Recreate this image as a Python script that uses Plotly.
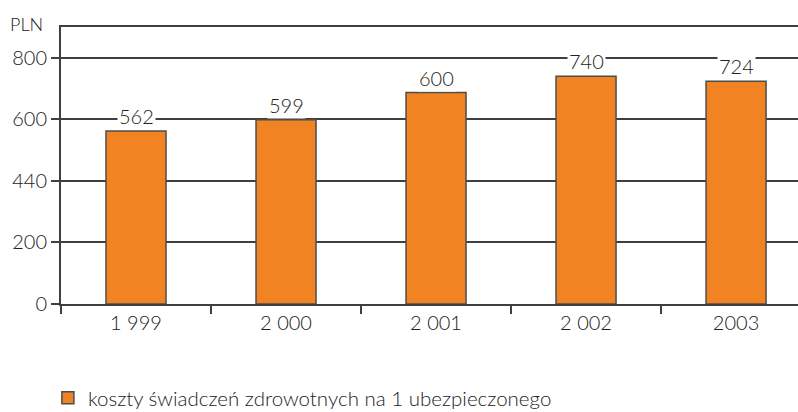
import plotly.graph_objects as go

# ---- data ----
years = ["1 999", "2 000", "2 001", "2 002", "2003"]
bar_values = [562, 599, 687, 740, 724]          # bar heights as drawn
bar_labels = ["562", "599", "600", "740", "724"]  # value labels as printed
y_tick_vals = [0, 200, 400, 600, 800]
y_tick_text = ["0", "200", "440", "600", "800"]
series_name = "koszty świadczeń zdrowotnych na 1 ubezpieczonego"
unit_label = "PLN"

FONT = "Lato"
W = 300
TXT = "#222222"
LINE = "#3f3f3f"
ORANGE = "#F28322"

fig = go.Figure()
fig.add_trace(go.Bar(
    x=years, y=bar_values, name=series_name,
    marker=dict(color=ORANGE, line=dict(color="#4d4d4d", width=1.5)),
    width=0.4, showlegend=True, hoverinfo="skip",
))

for i, (v, t) in enumerate(zip(bar_values, bar_labels)):
    fig.add_annotation(x=i, y=v, text=t, showarrow=False, yanchor="bottom",
                       xanchor="center", yshift=1, bgcolor="white", borderpad=1,
                       font=dict(family=FONT, size=20, color=TXT, weight=W))

fig.add_annotation(xref="paper", yref="paper", x=-0.0217, y=1.0, text=unit_label,
                   showarrow=False, xanchor="right", yanchor="middle", yshift=3,
                   font=dict(family=FONT, size=18, color=TXT, weight=W))

fig.update_layout(
    width=798, height=412,
    margin=dict(l=61, r=0, t=27, b=108),
    paper_bgcolor="white", plot_bgcolor="white",
    font=dict(family=FONT, size=20, color=TXT, weight=W),
    bargap=0.6,
    showlegend=True,
    legend=dict(xref="container", yref="container", x=0.06, y=0.034,
                xanchor="left", yanchor="middle", orientation="h",
                font=dict(family=FONT, size=20.5, color=TXT, weight=W),
                bgcolor="rgba(0,0,0,0)"),
)
fig.update_xaxes(
    type="category", range=[-0.5, 4.413], tickson="boundaries",
    ticks="outside", ticklen=8, tickwidth=1.5, tickcolor=LINE,
    showline=True, linecolor=LINE, linewidth=2, mirror=True,
    showgrid=False, tickfont=dict(family=FONT, size=20, color=TXT, weight=W),
)
fig.update_yaxes(
    range=[0, 900], tickmode="array", tickvals=y_tick_vals, ticktext=y_tick_text,
    ticks="outside", ticklen=8, tickwidth=1.5, tickcolor=LINE,
    showline=True, linecolor=LINE, linewidth=2,
    showgrid=True, gridcolor=LINE, gridwidth=1.5, zeroline=False,
    tickfont=dict(family=FONT, size=20, color=TXT, weight=W),
)

fig.write_html("out.html")
